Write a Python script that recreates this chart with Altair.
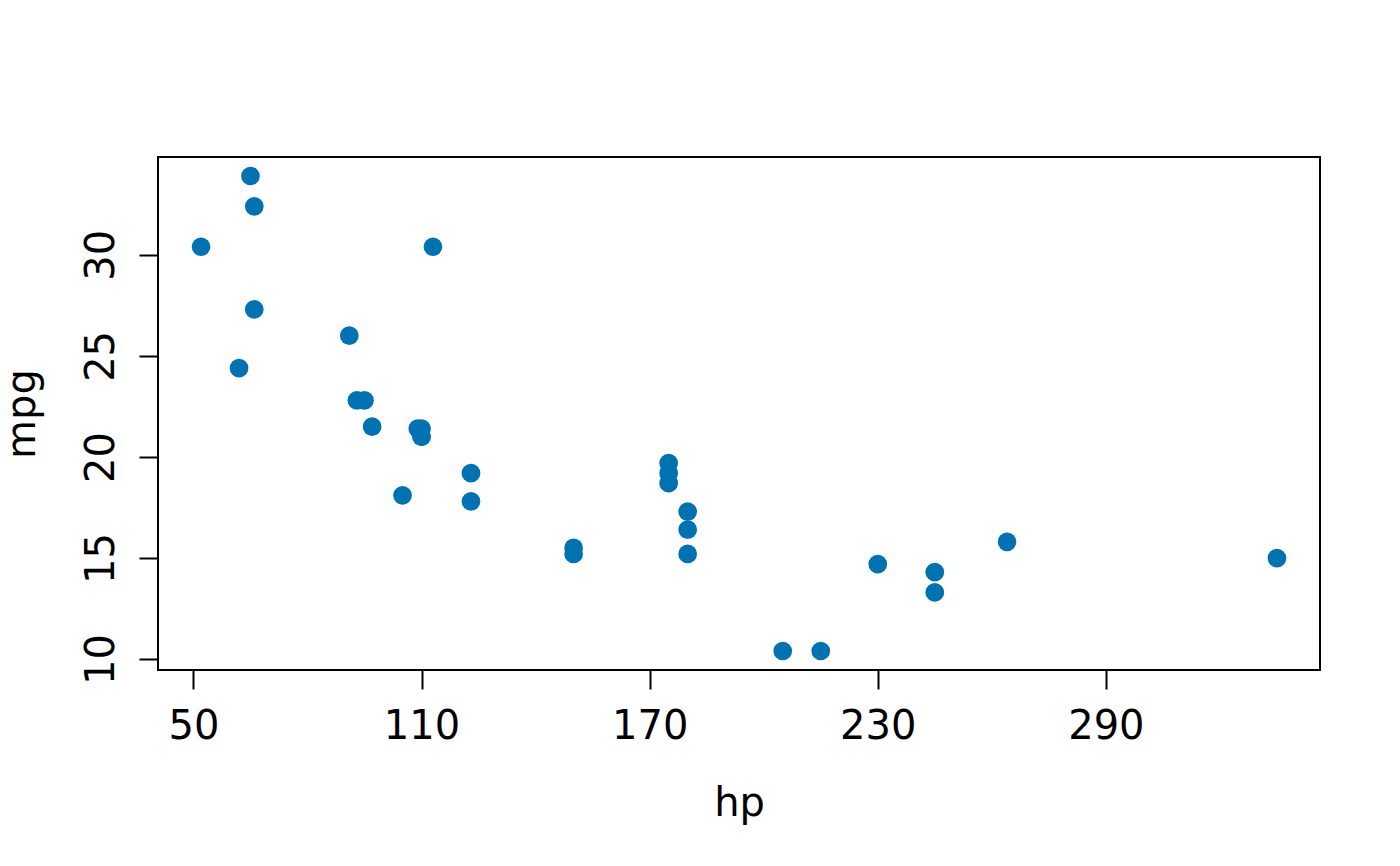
import altair as alt
import pandas as pd

hp = [110, 110, 93, 110, 175, 105, 245, 62, 95, 123, 123, 180, 180, 180, 205, 215,
      230, 66, 52, 65, 97, 150, 150, 245, 175, 66, 91, 113, 264, 175, 335, 109]
mpg = [21.0, 21.0, 22.8, 21.4, 18.7, 18.1, 14.3, 24.4, 22.8, 19.2, 17.8, 16.4, 17.3, 15.2,
       10.4, 10.4, 14.7, 32.4, 30.4, 33.9, 21.5, 15.5, 15.2, 13.3, 19.2, 27.3, 26.0, 30.4,
       15.8, 19.7, 15.0, 21.4]
x_ticks = [50, 110, 170, 230, 290]
y_ticks = [10, 15, 20, 25, 30]

df = pd.DataFrame({"hp": hp, "mpg": mpg})

FONT = "DejaVu Sans"
FS = 40

chart = alt.Chart(df).mark_circle(size=350, opacity=1, color="#0072B2").encode(
    x=alt.X("hp:Q",
            scale=alt.Scale(domain=[40.68, 346.32], nice=False, zero=False),
            axis=alt.Axis(values=x_ticks, grid=False, domain=False, tickSize=19,
                          tickWidth=2, tickColor="black", labelPadding=17,
                          labelFont=FONT, labelFontSize=FS, labelColor="black",
                          labelFlush=False, labelOverlap=False,
                          title="hp", titleFont=FONT, titleFontSize=FS,
                          titleFontWeight="normal", titleColor="black",
                          titleX=581, titleY=145, titleBaseline="alphabetic",
                          titleAlign="center")),
    y=alt.Y("mpg:Q",
            scale=alt.Scale(domain=[9.46, 34.84], nice=False, zero=False),
            axis=alt.Axis(values=y_ticks, grid=False, domain=False, tickSize=19,
                          tickWidth=2, tickColor="black", labelPadding=18,
                          labelAngle=-90, labelAlign="center", labelBaseline="bottom",
                          labelFont=FONT, labelFontSize=FS, labelColor="black",
                          labelFlush=False, labelOverlap=False,
                          title="mpg", titleFont=FONT, titleFontSize=FS,
                          titleFontWeight="normal", titleColor="black",
                          titleX=-124, titleY=256.5, titleAngle=-90,
                          titleBaseline="alphabetic", titleAlign="center")),
).properties(
    width=1162, height=513,
    autosize=alt.AutoSizeParams(type="none"),
    padding={"left": 150, "top": 149, "right": 72, "bottom": 188},
).configure(
    background="white",
    view=alt.ViewConfig(stroke="black", strokeWidth=2),
)

chart.save("out.html", embed_options={"renderer": "svg", "actions": False})
